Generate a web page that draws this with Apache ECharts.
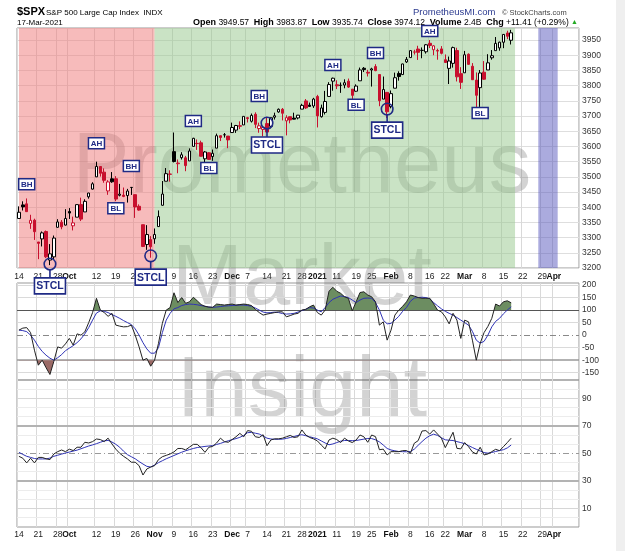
<!DOCTYPE html>
<html><head><meta charset="utf-8">
<script src="https://cdn.jsdelivr.net/npm/echarts@6/dist/echarts.min.js"></script>
<style>html,body{margin:0;padding:0;background:#fff}#c{width:625px;height:551px}</style>
</head><body><div id="c"></div><script>
// ---------- categories ----------
const dates = [
'2020-09-14','2020-09-15','2020-09-16','2020-09-17','2020-09-18','2020-09-21','2020-09-22','2020-09-23','2020-09-24','2020-09-25','2020-09-28','2020-09-29','2020-09-30',
'2020-10-01','2020-10-02','2020-10-05','2020-10-06','2020-10-07','2020-10-08','2020-10-09','2020-10-12','2020-10-13','2020-10-14','2020-10-15','2020-10-16','2020-10-19','2020-10-20','2020-10-21','2020-10-22','2020-10-23','2020-10-26','2020-10-27','2020-10-28','2020-10-29','2020-10-30',
'2020-11-02','2020-11-03','2020-11-04','2020-11-05','2020-11-06','2020-11-09','2020-11-10','2020-11-11','2020-11-12','2020-11-13','2020-11-16','2020-11-17','2020-11-18','2020-11-19','2020-11-20','2020-11-23','2020-11-24','2020-11-25','2020-11-27','2020-11-30',
'2020-12-01','2020-12-02','2020-12-03','2020-12-04','2020-12-07','2020-12-08','2020-12-09','2020-12-10','2020-12-11','2020-12-14','2020-12-15','2020-12-16','2020-12-17','2020-12-18','2020-12-21','2020-12-22','2020-12-23','2020-12-24','2020-12-28','2020-12-29','2020-12-30','2020-12-31',
'2021-01-04','2021-01-05','2021-01-06','2021-01-07','2021-01-08','2021-01-11','2021-01-12','2021-01-13','2021-01-14','2021-01-15','2021-01-19','2021-01-20','2021-01-21','2021-01-22','2021-01-25','2021-01-26','2021-01-27','2021-01-28','2021-01-29',
'2021-02-01','2021-02-02','2021-02-03','2021-02-04','2021-02-05','2021-02-08','2021-02-09','2021-02-10','2021-02-11','2021-02-12','2021-02-16','2021-02-17','2021-02-18','2021-02-19','2021-02-22','2021-02-23','2021-02-24','2021-02-25','2021-02-26',
'2021-03-01','2021-03-02','2021-03-03','2021-03-04','2021-03-05','2021-03-08','2021-03-09','2021-03-10','2021-03-11','2021-03-12','2021-03-15','2021-03-16','2021-03-17',
'2021-03-18','2021-03-19','2021-03-22','2021-03-23','2021-03-24','2021-03-25','2021-03-26','2021-03-29','2021-03-30','2021-03-31','2021-04-01','2021-04-05','2021-04-06','2021-04-07','2021-04-08','2021-04-09','2021-04-12'
];
// ---------- price series ----------
const prevCloseBefore = 3340.97;
const openP = [3363.0,3407.7,3411.2,3346.9,3357.4,3285.6,3295.8,3320.1,3226.1,3236.7,3333.9,3350.9,3341.2,
3385.9,3338.9,3367.3,3408.7,3384.6,3434.3,3459.7,3500.0,3534.0,3515.5,3453.7,3493.5,3493.7,3439.4,3439.9,3438.5,3464.9,3441.4,3403.2,3342.5,3277.2,3293.6,
3296.2,3336.3,3406.5,3485.7,3508.3,3583.0,3543.3,3563.2,3562.7,3552.6,3600.2,3610.3,3612.1,3559.4,3579.3,3566.8,3594.5,3635.5,3638.6,3634.2,
3645.9,3653.8,3668.3,3670.9,3694.7,3683.1,3706.0,3659.1,3656.1,3675.3,3666.4,3696.3,3713.7,3722.4,3684.3,3698.1,3693.4,3694.0,3723.0,3750.0,3736.2,3733.3,
3764.6,3698.0,3712.2,3764.7,3815.1,3803.1,3801.6,3802.2,3815.0,3788.7,3781.9,3816.2,3857.5,3844.2,3851.7,3863.0,3836.8,3755.8,3778.1,
3731.2,3791.8,3840.3,3836.7,3878.3,3892.6,3910.5,3920.8,3916.4,3911.7,3939.6,3918.5,3915.9,3921.2,3885.6,3857.1,3873.7,3915.8,3839.7,
3842.5,3903.6,3864.0,3818.5,3793.6,3844.4,3851.9,3892.0,3915.5,3924.5,3943.0,3973.6,3949.57];
const highP = [3402.9,3419.5,3428.9,3375.2,3362.3,3285.6,3320.3,3323.4,3278.7,3306.9,3360.7,3357.9,3393.6,
3397.2,3369.1,3409.0,3431.6,3426.3,3447.3,3482.3,3549.9,3534.0,3527.9,3489.1,3515.8,3502.4,3476.9,3464.9,3460.5,3466.5,3441.4,3409.5,3342.5,3341.1,3304.9,
3330.1,3389.5,3486.3,3529.0,3521.6,3646.0,3557.2,3581.2,3569.0,3593.7,3628.5,3623.1,3619.1,3585.2,3581.2,3589.8,3642.3,3635.5,3644.3,3634.2,
3678.5,3671.0,3682.7,3699.2,3697.4,3708.5,3712.4,3678.5,3665.9,3697.6,3695.3,3711.3,3725.1,3726.7,3702.9,3698.3,3711.2,3703.8,3740.5,3756.1,3744.6,3760.2,
3770.0,3737.8,3783.0,3811.6,3826.7,3817.9,3810.8,3821.0,3823.6,3788.7,3804.5,3859.8,3861.5,3852.3,3859.2,3870.9,3836.8,3830.2,3778.1,
3784.3,3843.1,3847.5,3872.4,3894.6,3915.8,3918.4,3931.5,3926.0,3937.2,3950.4,3933.6,3922.0,3930.4,3902.9,3896.0,3928.7,3925.0,3861.1,
3914.5,3906.4,3874.5,3843.7,3851.7,3881.1,3903.8,3917.4,3960.3,3945.0,3970.1,3981.0,3983.87];
const lowP = [3363.6,3389.3,3384.5,3328.8,3292.4,3229.1,3270.9,3232.6,3209.5,3228.4,3332.9,3327.5,3340.0,
3361.4,3323.7,3367.3,3354.5,3384.6,3428.2,3458.1,3499.6,3500.9,3480.6,3440.9,3480.5,3419.9,3435.7,3433.1,3415.3,3440.5,3364.9,3388.7,3268.9,3259.8,3233.9,
3279.7,3336.3,3405.2,3485.7,3484.3,3547.5,3511.9,3557.0,3518.6,3552.6,3600.2,3588.7,3567.3,3543.8,3556.9,3552.8,3594.5,3617.8,3629.3,3594.4,
3645.9,3644.8,3657.2,3670.9,3678.9,3678.8,3660.5,3645.2,3633.4,3645.8,3659.6,3688.6,3710.9,3685.8,3636.5,3676.2,3689.3,3689.3,3723.0,3723.3,3730.2,3726.9,
3662.7,3695.1,3705.3,3764.7,3783.6,3789.0,3776.5,3791.5,3792.9,3749.6,3780.4,3816.2,3845.1,3830.4,3797.2,3847.8,3732.5,3755.8,3694.1,
3725.6,3791.8,3816.7,3836.7,3874.9,3892.6,3902.6,3884.9,3890.4,3905.8,3923.9,3900.4,3885.6,3903.1,3874.7,3805.6,3859.6,3814.0,3789.5,
3842.5,3868.6,3818.9,3723.3,3730.2,3819.3,3851.9,3885.7,3915.5,3915.2,3923.5,3953.4,3935.74];
const closeP = [3383.5,3401.2,3385.5,3357.0,3319.5,3281.1,3315.6,3236.9,3246.6,3298.5,3351.6,3335.5,3363.0,
3380.8,3348.4,3408.6,3360.9,3419.4,3446.8,3477.1,3534.2,3511.9,3488.7,3483.3,3483.8,3426.9,3443.1,3435.6,3453.5,3465.4,3400.9,3390.7,3271.0,3310.1,3270.0,
3310.2,3369.2,3443.4,3510.5,3509.4,3550.5,3545.5,3572.7,3537.0,3585.2,3626.9,3609.5,3567.8,3581.9,3557.5,3577.6,3635.4,3629.7,3638.4,3621.6,
3662.5,3669.0,3666.7,3699.1,3692.0,3702.3,3672.8,3668.1,3663.5,3647.5,3694.6,3701.2,3722.5,3709.4,3694.9,3687.3,3690.0,3703.1,3735.4,3727.0,3732.0,3756.1,
3700.7,3726.9,3748.1,3803.8,3824.7,3799.6,3801.2,3809.8,3795.5,3768.3,3798.9,3851.9,3853.1,3841.5,3855.4,3849.6,3750.8,3787.4,3714.2,
3773.9,3826.3,3830.2,3871.7,3886.8,3915.6,3911.2,3909.9,3916.4,3934.8,3932.6,3931.3,3914.0,3906.7,3876.5,3881.4,3925.4,3829.3,3811.2,
3901.8,3870.3,3819.7,3768.5,3841.9,3821.4,3875.4,3898.8,3939.3,3943.3,3968.9,3962.7,3974.12];
// ---------- indicator series ----------
const cciLine = [20,28,30,10,-60,-120,-100,-130,-157,-105,-47,-52,-35,-13,-40,5,0,13,50,90,147,100,90,75,87,40,36,33,34,40,0,-47,-100,-93,-124,-100,-33,47,100,110,
169,130,150,127,133,151,137,122,115,112,111,124,122,120,122,124,120,122,124,122,118,103,90,80,84,87,90,93,93,73,78,84,87,100,103,113,120,90,80,100,
175,191,175,167,153,147,97,133,170,173,160,153,133,40,53,-20,20,80,100,115,133,160,156,150,147,147,147,125,100,93,73,45,87,60,-13,60,53,-20,-100,-33,10,35,67,124,116,133,137,129];
const cciSignal = [20,18,14,0,-20,-45,-65,-80,-92,-100,-90,-78,-62,-52,-42,-30,-15,5,30,60,88,97,95,90,82,75,67,58,50,42,25,0,-30,-55,-72,-72,-50,10,60,87,
105,110,118,122,124,123,121,118,115,112,111,112,114,116,117,118,119,120,120,118,115,108,100,92,89,90,92,90,86,84,85,87,92,98,103,110,108,100,93,110,
130,143,150,156,154,150,140,130,140,147,148,147,130,100,60,45,47,60,75,95,110,135,148,150,151,150,145,130,117,105,95,87,80,70,60,50,40,15,-20,-32,-25,0,33,55,67,85,100,113];
const rsiLine = [47.8,46.4,43,46.4,43,47,47,46,45.4,49.5,51.2,52.4,51.2,53,52,54.4,54.4,58,57.5,58.5,60.4,60,58.5,61,56.8,53,50,47.8,45.9,43.5,43.5,41,34.2,38.6,40,41,45.4,47.5,48.5,49.5,
51,53.5,53.5,52.5,54.5,56.5,56.5,54,50.7,54.4,55,57.5,61,58.5,58,60,62,64.5,62,66.5,66,62,61.5,63.5,55.5,59.7,60.5,60.5,61,62,63,61.5,62,67,63.3,61.5,60.5,59,56,53.2,
59.7,61,60,57.8,61,59,57.8,59.7,63.3,62,58,63.3,62.1,52.6,53,48.8,51.2,51.2,51.2,51.9,52,50,57.3,59.2,66.2,66.5,64,67,64,61,54.1,59.7,65.3,53.6,53.2,57.8,54.8,51,49.5,54.4,48.8,49.5,51.2,52.9,51.9,54.8,57.8,61];
const rsiSignal = [50.7,49.2,47.8,47,46.2,45.9,45.9,45.9,46.5,47.8,48.6,49.4,50.2,50.9,51.6,52.3,53.3,54.3,55.3,56.1,57,58,59,59.4,58.2,56.5,54.4,51.5,49,47.5,46,44,42.2,40.5,40,41.5,43.2,44.6,46,47.2,
48.4,49.6,50.8,51.8,52.7,53.5,54.2,54.6,55,55.3,55.6,56.4,57.2,58.2,59.1,59.9,60.7,61.6,63,65,65.2,64.6,64,62.5,61,60.4,60.2,60.2,60.3,60.8,61.5,62.2,63,63.5,62.8,62,61.3,60.5,59,57.5,
56.2,56.8,57.8,58.8,59.3,59.3,59.2,59.3,59.8,60.3,60.8,60.7,59.8,58.3,56,53.5,52.4,51.8,51.3,51.2,51.1,51.3,53,55.8,58.5,61,62.8,63.9,63,61.3,59.8,59.5,59.3,58.5,57.8,57,55.6,54.2,52.9,51.7,50.5,50.1,50.6,51.3,52,52.6,53.9,56];
// ---------- ticks / labels ----------
const cciTicks = [200,150,100,50,0,-50,-100,-150];
const rsiTicks = [90,70,50,30,10];
const xTickLabels = [['2020-09-14','14'],['2020-09-21','21'],['2020-09-28','28'],['2020-10-01','Oct'],['2020-10-12','12'],['2020-10-19','19'],['2020-10-26','26'],['2020-11-02','Nov'],['2020-11-09','9'],['2020-11-16','16'],['2020-11-23','23'],['2020-12-01','Dec'],['2020-12-07','7'],['2020-12-14','14'],['2020-12-21','21'],['2020-12-28','28'],['2021-01-04','2021'],['2021-01-11','11'],['2021-01-19','19'],['2021-01-25','25'],['2021-02-01','Feb'],['2021-02-08','8'],['2021-02-16','16'],['2021-02-22','22'],['2021-03-01','Mar'],['2021-03-08','8'],['2021-03-15','15'],['2021-03-22','22'],['2021-03-29','29'],['2021-04-01','Apr']];
const boldLabels = ['Oct','Nov','Dec','2021','Feb','Mar','Apr'];
// phases (shaded periods)
const phaseBear = ['2020-09-14','2020-11-02'];
const phaseBull = ['2020-11-02','2021-03-18'];
const phaseWindow = ['2021-03-26','2021-04-05'];
// annotations: [date, text, price level]
const annotations = [
 ['2020-09-16','BH',3476],['2020-10-12','AH',3611],['2020-10-19','BL',3397],['2020-10-23','BH',3536],
 ['2020-11-16','AH',3684],['2020-11-20','BL',3529],['2020-12-10','BH',3766],['2021-01-08','AH',3868],
 ['2021-01-19','BL',3737],['2021-01-26','BH',3908],['2021-02-16','AH',3980],['2021-03-05','BL',3710]];
// STCL markers: [date, circle level, box level]
const stclMarks = [['2020-09-24',3213,3141],['2020-10-30',3240,3170],['2020-12-14',3677,3605],['2021-01-29',3723,3654]];
const watermark = ['Prometheus', 'Market', 'Insight'];

// ---------- build ----------
const FONT = '"Liberation Sans", Arial, sans-serif';
const NAVY = '#1f2a85';
const RED = '#c8102e';
const labelMap = new Map(xTickLabels);
const showTick = (i, v) => labelMap.has(v);

const candleData = closeP.map((c, i) => {
  const o = openP[i], l = lowP[i], h = highP[i];
  const pc = i === 0 ? prevCloseBefore : closeP[i - 1];
  const col = c >= pc ? '#000000' : RED;
  const fill = c >= o ? '#ffffff' : col;
  return {value: [o, c, l, h], itemStyle: {color: fill, color0: fill, borderColor: col, borderColor0: col}};
});

function xAxisFor(gi, showLabels) {
  return {
    type: 'category', gridIndex: gi, data: dates, boundaryGap: true,
    axisLine: {show: false}, axisTick: {show: false},
    axisLabel: {show: showLabels, interval: 0, margin: gi === 0 ? 4 : 3, hideOverlap: false,
      formatter: v => { const t = labelMap.get(v); if (!t) return ''; return boldLabels.includes(t) ? '{b|' + t + '}' : t; },
      fontSize: 8.5, color: '#222', fontFamily: FONT,
      rich: {b: {fontWeight: 'bold', fontSize: 8.5, color: '#111', fontFamily: FONT}}},
    splitLine: {show: true, interval: showTick, lineStyle: {color: '#d9d9d9', width: 1}}
  };
}
const yLabel = {fontSize: 8.5, color: '#333', fontFamily: FONT, margin: 3, formatter: v => String(v)};

const hl = (v, color, width, type) => ({yAxis: v, lineStyle: {color, width, type: type || 'solid'}});
const rsiMinor = [];
[10, 30, 50, 70, 90].forEach(b => { rsiMinor.push(b - 20 / 3, b + 20 / 3); });

const option = {
  animation: false,
  backgroundColor: '#ffffff',
  grid: [
    {left: 17, right: 46, top: 28, height: 240, show: true, borderColor: '#999', borderWidth: 1, backgroundColor: '#fff'},
    {left: 17, right: 46, top: 283, height: 97, show: true, borderColor: '#999', borderWidth: 1},
    {left: 17, right: 46, top: 380, height: 147, show: true, borderColor: '#999', borderWidth: 1}
  ],
  xAxis: [xAxisFor(0, true), xAxisFor(1, false), xAxisFor(2, true)],
  yAxis: [
    {type: 'value', gridIndex: 0, position: 'right', min: 3200, max: 3990, interval: 50,
     axisLabel: Object.assign({showMaxLabel: false}, yLabel), axisLine: {show: false}, axisTick: {show: false},
     splitLine: {lineStyle: {color: '#dedede'}}},
    {type: 'value', gridIndex: 1, position: 'right', min: -179, max: 208,
     axisLabel: Object.assign({customValues: cciTicks}, yLabel), axisTick: {show: false, customValues: cciTicks},
     axisLine: {show: false}, splitLine: {show: false}},
    {type: 'value', gridIndex: 2, position: 'right', min: -3.6, max: 103.3,
     axisLabel: Object.assign({customValues: rsiTicks}, yLabel), axisTick: {show: false, customValues: rsiTicks},
     axisLine: {show: false}, splitLine: {show: false}}
  ],
  visualMap: [
    {type: 'piecewise', show: false, seriesIndex: 1, dimension: 1,
     pieces: [{gt: 100, lte: 1000, color: '#6c8d61'}, {gt: -1000, lte: 100, color: 'rgba(108,141,97,0)'}]},
    {type: 'piecewise', show: false, seriesIndex: 2, dimension: 1,
     pieces: [{gt: -1000, lt: -100, color: '#9b6a66'}, {gte: -100, lt: 1000, color: 'rgba(155,106,102,0)'}]}
  ],
  series: [
    {type: 'candlestick', xAxisIndex: 0, yAxisIndex: 0, data: candleData, barWidth: 3, z: 3,
     itemStyle: {borderWidth: 1},
     markArea: {silent: true, z: 1, data: [
       [{xAxis: -0.5, itemStyle: {color: 'rgba(240,120,120,0.5)'}}, {xAxis: phaseBear[1]}],
       [{xAxis: phaseBull[0], itemStyle: {color: 'rgba(150,200,140,0.5)'}}, {xAxis: phaseBull[1]}],
       [{xAxis: phaseWindow[0], itemStyle: {color: 'rgba(80,80,185,0.48)'}}, {xAxis: phaseWindow[1]}]
     ]}},
    {type: 'line', xAxisIndex: 1, yAxisIndex: 1, data: cciLine, symbol: 'none', silent: true,
     lineStyle: {opacity: 0}, areaStyle: {origin: 100, opacity: 1}, z: 2},
    {type: 'line', xAxisIndex: 1, yAxisIndex: 1, data: cciLine, symbol: 'none', silent: true,
     lineStyle: {opacity: 0}, areaStyle: {origin: -100, opacity: 1}, z: 2},
    {type: 'line', xAxisIndex: 1, yAxisIndex: 1, data: cciSignal, symbol: 'none', silent: true,
     lineStyle: {color: '#2f33b5', width: 1}, z: 3},
    {type: 'line', xAxisIndex: 1, yAxisIndex: 1, data: cciLine, symbol: 'none', silent: true,
     lineStyle: {color: '#222', width: 1}, z: 4,
     markLine: {silent: true, symbol: 'none', label: {show: false}, z: 1, data: [
       hl(200, '#dadada', 1), hl(150, '#dadada', 1), hl(50, '#dadada', 1), hl(-50, '#dadada', 1), hl(-150, '#dadada', 1),
       hl(100, '#555', 1.2), hl(-100, '#999', 1.5), hl(0, '#888', 1, [6, 3, 1, 3])]}},
    {type: 'line', xAxisIndex: 2, yAxisIndex: 2, data: rsiSignal, symbol: 'none', silent: true,
     lineStyle: {color: '#2f33b5', width: 1}, z: 3},
    {type: 'line', xAxisIndex: 2, yAxisIndex: 2, data: rsiLine, symbol: 'none', silent: true,
     lineStyle: {color: '#222', width: 1}, z: 4,
     markLine: {silent: true, symbol: 'none', label: {show: false}, z: 1, data:
       rsiMinor.filter(v => v > -3 && v < 103).map(v => hl(v, '#ececec', 1)).concat([
       hl(90, '#d6d6d6', 1), hl(10, '#d6d6d6', 1), hl(70, '#b3b3b3', 2), hl(30, '#b3b3b3', 2), hl(50, '#999', 1, [6, 3, 1, 3])])}}
  ],
  graphic: [
    {type: 'rect', z: 100, shape: {x: 616, y: 0, width: 9, height: 551}, style: {fill: '#efefef'}},
    {type: 'text', z: 100, style: {text: '$SPX', x: 17, y: 12, verticalAlign: 'middle', font: 'bold 11px ' + FONT, fill: '#000'}},
    {type: 'text', z: 100, style: {text: 'S&P 500 Large Cap Index  INDX', x: 46, y: 12.5, verticalAlign: 'middle', font: '8px ' + FONT, fill: '#000'}},
    {type: 'text', z: 100, style: {text: '17-Mar-2021', x: 17, y: 22.5, verticalAlign: 'middle', font: '8px ' + FONT, fill: '#000'}},
    {type: 'text', z: 100, style: {text: 'PrometheusMI.com', x: 413, y: 12.5, verticalAlign: 'middle', font: '9.5px ' + FONT, fill: '#2b3a8f'}},
    {type: 'text', z: 100, style: {text: '© StockCharts.com', x: 502, y: 12.5, verticalAlign: 'middle', font: '7.5px ' + FONT, fill: '#444'}},
    {type: 'text', z: 100, style: {
      text: '{b|Open} 3949.57  {b|High} 3983.87  {b|Low} 3935.74  {b|Close} 3974.12  {b|Volume} 2.4B  {b|Chg} +11.41 (+0.29%) {g|▲}',
      x: 578, y: 22.5, align: 'right', verticalAlign: 'middle', font: '8.5px ' + FONT, fill: '#000',
      rich: {b: {font: 'bold 9px ' + FONT, fill: '#000'}, g: {font: '7px ' + FONT, fill: '#22aa22'}}}}
  ]
};

const chart = echarts.init(document.getElementById('c'));
chart.setOption(option);

// watermark + annotations positioned through the library's scales
const g = [];
watermark.forEach((t, k) => {
  g.push({type: 'text', z: 1, silent: true, style: {text: t, x: 302, y: 126 + k * 112, align: 'center', verticalAlign: 'top',
    font: '85px ' + FONT, fill: 'rgba(110,110,110,0.3)'}});
});
const toPx = (d, p) => chart.convertToPixel({xAxisIndex: 0, yAxisIndex: 0}, [d, p]);
annotations.forEach(([d, t, p]) => {
  const [x, y] = toPx(d, p);
  g.push({type: 'rect', z: 50, shape: {x: x - 8, y: y - 5.5, width: 16, height: 11}, style: {fill: '#fff', stroke: NAVY, lineWidth: 1.5}});
  g.push({type: 'text', z: 51, style: {text: t, x: x, y: y + 0.5, align: 'center', verticalAlign: 'middle', font: 'bold 8px ' + FONT, fill: NAVY}});
});
stclMarks.forEach(([d, pc, pb]) => {
  const [cx, cy] = toPx(d, pc);
  const [bx, by] = toPx(d, pb);
  g.push({type: 'circle', z: 50, shape: {cx, cy, r: 5.8}, style: {fill: 'none', stroke: NAVY, lineWidth: 1.6}});
  g.push({type: 'line', z: 50, shape: {x1: cx, y1: cy + 5.8, x2: bx, y2: by - 8}, style: {stroke: NAVY, lineWidth: 1.6}});
  g.push({type: 'rect', z: 50, shape: {x: bx - 15.5, y: by - 8, width: 31, height: 16}, style: {fill: '#fff', stroke: NAVY, lineWidth: 1.6}});
  g.push({type: 'text', z: 51, style: {text: 'STCL', x: bx, y: by + 0.5, align: 'center', verticalAlign: 'middle', font: 'bold 10.5px ' + FONT, fill: NAVY}});
});
chart.setOption({graphic: option.graphic.concat(g)});
</script></body></html>
